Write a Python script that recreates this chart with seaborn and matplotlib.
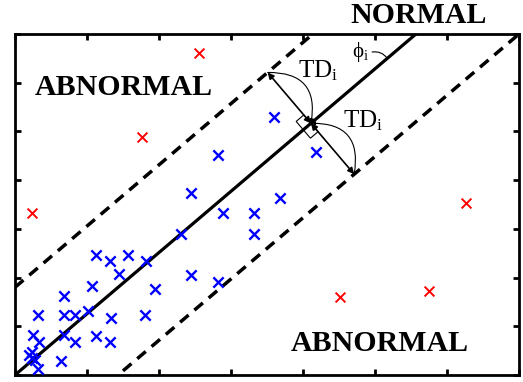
import numpy as np
import matplotlib
matplotlib.use('Agg')
import matplotlib.pyplot as plt
import seaborn as sns
from matplotlib.patches import Polygon, FancyArrowPatch

# samples inside the normal band (blue) and outliers (red)
normal_x = [2.44, 2.885, 3.32, 3.32, 2.30, 1.125, 1.32, 1.565, 1.815, 1.45, 2.44, 2.82,
            1.065, 1.94, 0.685, 0.325, 0.685, 0.835, 1.01, 1.34, 1.81, 0.255, 0.335,
            0.685, 0.835, 1.125, 1.32, 0.23, 0.23, 0.28, 0.19, 0.64, 0.32, 3.68, 3.60,
            2.82, 4.18]
normal_y = [3.73, 3.32, 3.32, 2.89, 2.89, 2.46, 2.34, 2.46, 2.34, 2.07, 2.05, 1.90,
            1.83, 1.76, 1.63, 1.23, 1.23, 1.23, 1.32, 1.16, 1.23, 0.82, 0.68,
            0.82, 0.68, 0.80, 0.68, 0.48, 0.35, 0.31, 0.41, 0.29, 0.12, 3.63, 5.30,
            4.52, 4.57]
abnormal_x = [2.555, 1.76, 0.24, 6.26, 4.51, 5.75]
abnormal_y = [6.60, 4.88, 3.32, 3.54, 1.61, 1.72]

boundary_slope = 1.257
band_offset = 1.8
centre_x = 4.11
phi_from = (4.96, 6.63)
phi_to_y = 6.50
axis_ticks = list(range(8))

sns.set_theme(style='white')
plt.rcParams['font.family'] = ['Liberation Serif', 'DejaVu Serif']
plt.rcParams['mathtext.fontset'] = 'custom'
plt.rcParams['mathtext.rm'] = 'Liberation Serif'
plt.rcParams['mathtext.it'] = 'Liberation Serif:italic'
plt.rcParams['text.color'] = 'black'
plt.rcParams['xtick.color'] = 'black'
plt.rcParams['ytick.color'] = 'black'

fig = plt.figure(figsize=(5.23, 3.82), dpi=100)
ax = fig.add_axes([15 / 523, 7 / 382, 504 / 523, 341 / 382])

sns.scatterplot(x=normal_x, y=normal_y, marker='x', color='blue', s=55,
                linewidth=1.7, ax=ax, zorder=3)
sns.scatterplot(x=abnormal_x, y=abnormal_y, marker='x', color='red', s=50,
                linewidth=1.4, ax=ax, zorder=3)

xs = np.array([0, 7])
ax.plot(xs, boundary_slope * xs, color='black', lw=2.3, zorder=2)
for sign in (1, -1):
    ax.plot(xs, boundary_slope * xs + sign * band_offset, color='black', lw=2.5,
            ls=(0, (3.2, 2.2)), zorder=2)

ax.set_xlim(0, 7)
ax.set_ylim(0, 7)
ax.set_xticks(axis_ticks)
ax.set_yticks(axis_ticks)
ax.tick_params(direction='in', length=4, width=2, top=True, right=True,
               bottom=True, left=True, labelbottom=False, labelleft=False)
for sp in ax.spines.values():
    sp.set_linewidth(2)
    sp.set_color('black')

# geometry of the perpendicular distance markers, worked out in pixels
to_px = ax.transData.transform
to_data = ax.transData.inverted().transform
C = to_px((centre_x, boundary_slope * centre_x))
A = to_px((centre_x + 1, boundary_slope * (centre_x + 1)))
u = (A - C) / np.linalg.norm(A - C)
n = np.array([-u[1], u[0]])
vert = to_px((0, band_offset))[1] - to_px((0, 0))[1]
d = vert * u[0]
tip_up = C + d * n
tip_dn = C - d * n

for tip in (tip_up, tip_dn):
    ax.annotate('', xy=to_data(tip), xytext=to_data(C),
                arrowprops=dict(arrowstyle='<|-|>', color='black', lw=1.2,
                                mutation_scale=9, shrinkA=0, shrinkB=0))

for tip, rad in ((tip_up, -0.6), (tip_dn, 0.6)):
    arc = FancyArrowPatch(to_data(tip), to_data(C), connectionstyle=f'arc3,rad={rad}',
                          arrowstyle='-|>', mutation_scale=6, lw=0.8, color='black',
                          shrinkA=0, shrinkB=0)
    ax.add_patch(arc)

a, b = 11, 10
corners = [C + a * n, C - a * n, C - a * n - b * u, C + a * n - b * u]
ax.add_patch(Polygon([to_data(p) for p in corners], closed=True, fill=False,
                     lw=0.8, edgecolor='black', zorder=4))

ax.annotate('', xy=(phi_to_y / boundary_slope, phi_to_y), xytext=phi_from,
            arrowprops=dict(arrowstyle='-', color='black', lw=0.8,
                            connectionstyle='arc3,rad=-0.3', shrinkA=0, shrinkB=0))

ax.text(5.60, 7.39, 'NORMAL', fontsize=21.5, fontweight='bold', ha='center',
        va='center', clip_on=False)
ax.text(1.51, 5.91, 'ABNORMAL', fontsize=21.5, fontweight='bold', ha='center', va='center')
ax.text(5.07, 0.64, 'ABNORMAL', fontsize=21.5, fontweight='bold', ha='center', va='center')
ax.text(4.21, 6.24, r'TD$_{\mathrm{i}}$', fontsize=18, ha='center', va='center')
ax.text(4.83, 5.23, r'TD$_{\mathrm{i}}$', fontsize=18, ha='center', va='center')
ax.text(4.80, 6.63, r'ϕ$_{\mathrm{i}}$', fontsize=15, ha='center', va='center')

fig.savefig('out.png', dpi=100, facecolor='white')
